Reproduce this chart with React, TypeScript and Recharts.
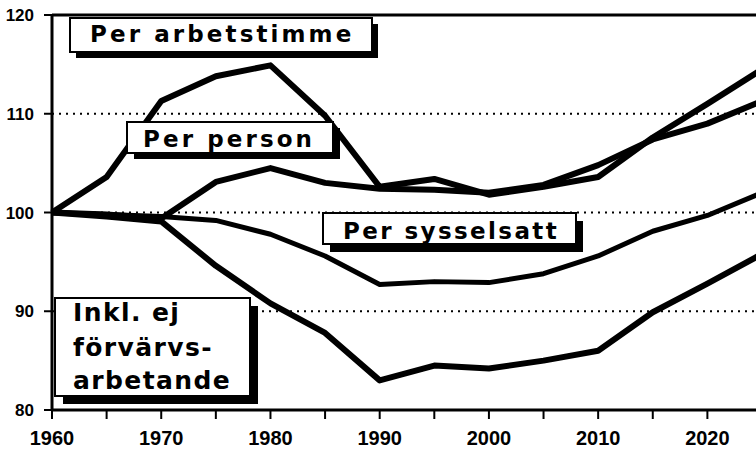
import React from 'react';
import { LineChart, Line, XAxis, YAxis, CartesianGrid, ReferenceLine } from 'recharts';

// index values, 1960 = 100, read every 5 years
const years = [1960, 1965, 1970, 1975, 1980, 1985, 1990, 1995, 2000, 2005, 2010, 2015, 2020, 2025];
const perArbetstimme = [100, 103.6, 111.3, 113.8, 114.9, 109.8, 102.6, 103.4, 101.8, 102.6, 103.6, 107.6, 111.0, 114.5];
const perPerson = [100, 99.8, 99.4, 103.1, 104.5, 103.0, 102.4, 102.3, 102.0, 102.8, 104.8, 107.4, 109.0, 111.3];
const perSysselsatt = [100, 99.8, 99.6, 99.2, 97.8, 95.6, 92.7, 93.0, 92.9, 93.8, 95.6, 98.1, 99.7, 102.0];
const inklEjForvarvsarbetande = [100, 99.6, 99.1, 94.6, 90.8, 87.8, 83.0, 84.5, 84.2, 85.0, 86.0, 89.9, 92.8, 95.8];

const xTicks = years;
const yTicks = [80, 90, 100, 110, 120];

const data = years.map((year, i) => ({
  year,
  arbetstimme: perArbetstimme[i],
  person: perPerson[i],
  sysselsatt: perSysselsatt[i],
  inkl: inklEjForvarvsarbetande[i],
}));

const boxFont = '"DejaVu Sans", sans-serif';

const Box = ({ x, y, w, h, sx = 6, sy = 6 }: any) => (
  <g>
    <rect x={x + sx} y={y + sy} width={w} height={h} fill="#000" />
    <rect x={x} y={y} width={w} height={h} fill="#fff" stroke="#000" strokeWidth={2} />
  </g>
);

const Labels = () => (
  <svg width={756} height={454} style={{ position: 'absolute', left: 0, top: 0, pointerEvents: 'none' }}>
    <Box x={70} y={18} w={302} h={34} />
    <text x={90} y={42} fontFamily={boxFont} fontWeight={700} fontSize={23} letterSpacing={3.1} fill="#000">
      Per arbetstimme
    </text>

    <Box x={127} y={122} w={206} h={31} sx={7} sy={6} />
    <text x={143} y={147} fontFamily={boxFont} fontWeight={700} fontSize={23} letterSpacing={3.1} fill="#000">
      Per person
    </text>

    <Box x={323} y={213} w={253} h={31} sx={7} sy={8} />
    <text x={343} y={239} fontFamily={boxFont} fontWeight={700} fontSize={23} letterSpacing={2.4} fill="#000">
      Per sysselsatt
    </text>

    <Box x={55} y={298} w={195} h={98} sx={8} sy={8} />
    <text fontFamily={boxFont} fontWeight={700} fontSize={25} letterSpacing={1.4} fill="#000">
      <tspan x={73} y={321}>Inkl. ej</tspan>
      <tspan x={73} y={356}>förvärvs-</tspan>
      <tspan x={73} y={389}>arbetande</tspan>
    </text>
  </svg>
);

export default function App() {
  return (
    <div style={{ position: 'fixed', left: 0, top: 0, width: 756, height: 454, overflow: 'hidden', background: '#fff' }}>
      <LineChart width={770} height={454} data={data} margin={{ top: 15, right: 8, left: 0, bottom: 0 }}>
        <CartesianGrid vertical={false} stroke="#000" strokeWidth={2} strokeDasharray="2 5" />
        <XAxis
          dataKey="year"
          type="number"
          domain={[1960, 2025]}
          ticks={xTicks}
          interval={0}
          height={44}
          tickSize={9}
          tickMargin={12}
          tickFormatter={(v: number) => (v % 10 === 0 && v < 2025 ? String(v) : '')}
          axisLine={{ stroke: '#000', strokeWidth: 3 }}
          tickLine={{ stroke: '#000', strokeWidth: 2 }}
          tick={{ fill: '#000', fontSize: 20, fontFamily: '"Liberation Sans", Arial, sans-serif', fontWeight: 700 }}
        />
        <YAxis
          type="number"
          domain={[80, 120]}
          ticks={yTicks}
          interval={0}
          width={52}
          tickSize={8}
          tickMargin={10}
          axisLine={{ stroke: '#000', strokeWidth: 3 }}
          tickLine={{ stroke: '#000', strokeWidth: 2 }}
          tick={{ fill: '#000', fontSize: 17, fontFamily: '"Liberation Sans", Arial, sans-serif', fontWeight: 700 }}
        />
        <ReferenceLine y={120} stroke="#000" strokeWidth={3} />
        <Line type="linear" dataKey="arbetstimme" stroke="#000" strokeWidth={6} dot={false} strokeLinejoin="round" isAnimationActive={false} />
        <Line type="linear" dataKey="person" stroke="#000" strokeWidth={6} dot={false} strokeLinejoin="round" isAnimationActive={false} />
        <Line type="linear" dataKey="sysselsatt" stroke="#000" strokeWidth={5} dot={false} strokeLinejoin="round" isAnimationActive={false} />
        <Line type="linear" dataKey="inkl" stroke="#000" strokeWidth={6} dot={false} strokeLinejoin="round" isAnimationActive={false} />
      </LineChart>
      <Labels />
    </div>
  );
}
